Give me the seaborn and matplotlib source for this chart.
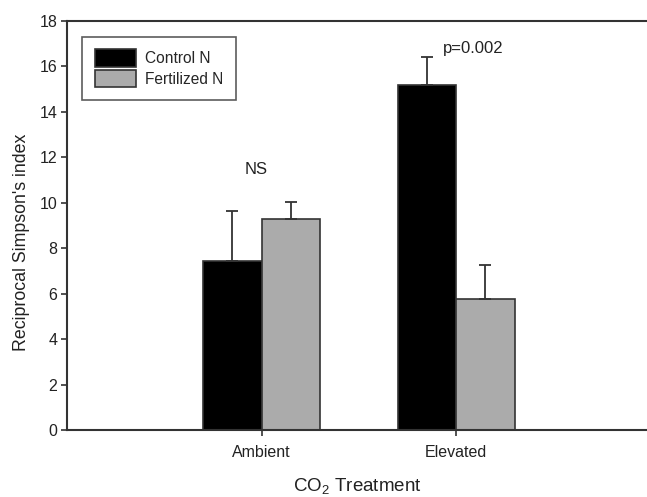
import pandas as pd
import numpy as np
import matplotlib
matplotlib.use('Agg')
import matplotlib.pyplot as plt
import seaborn as sns

sns.set_theme(style="white")
plt.rcParams['font.family'] = ['Liberation Sans', 'DejaVu Sans']
plt.rcParams['mathtext.fontset'] = 'custom'
plt.rcParams['mathtext.rm'] = 'Liberation Sans'

EDGE = '#333333'
GRAY = '#ababab'
TXT = '#222222'

treatments = ['Ambient', 'Elevated']
groups = ['Control N', 'Fertilized N']
control_vals = [7.45, 15.2]
fert_vals = [9.3, 5.75]
control_err = [2.2, 1.2]
fert_err = [0.72, 1.5]

df = pd.DataFrame({
    'treatment': treatments * 2,
    'group': [groups[0]] * 2 + [groups[1]] * 2,
    'value': control_vals + fert_vals,
    'err': control_err + fert_err,
})

fig = plt.figure(figsize=(6.47, 4.97), dpi=100)
ax = fig.add_axes([67 / 647, 1 - 430 / 497, 1 - 67 / 647, (430 - 21) / 497])

sns.barplot(data=df, x='treatment', y='value', hue='group', order=treatments,
            hue_order=groups, palette=['black', GRAY], width=0.6,
            errorbar=None, edgecolor=EDGE, linewidth=1.2, ax=ax)

# upper-only error bars, placed on the bars seaborn drew
for cont, g in zip(ax.containers, groups):
    sub = df[df['group'] == g].set_index('treatment').loc[treatments]
    xs = [p.get_x() + p.get_width() / 2 for p in cont.patches]
    ax.errorbar(xs, sub['value'], yerr=[np.zeros(len(xs)), sub['err']],
                fmt='none', ecolor=EDGE, elinewidth=1.3, capsize=4.5,
                capthick=1.3, zorder=1)

ax.text(-0.03, 11.45, 'NS', ha='center', va='center', fontsize=12, color=TXT)
ax.text(0.93, 16.8, 'p=0.002', ha='left', va='center', fontsize=12, color=TXT)

ax.set_xlim(-1, 1.98)
ax.set_ylim(0, 18)
ax.set_yticks(range(0, 19, 2))
ax.set_xlabel('CO$_2$ Treatment', fontsize=13.5, color=TXT, labelpad=12)
ax.set_ylabel("Reciprocal Simpson's index", fontsize=12.8, color=TXT)
ax.yaxis.set_label_coords(-0.064, 0.46)
ax.tick_params(axis='both', direction='out', length=4, width=1.2, color=EDGE,
               labelsize=11.5, labelcolor=TXT, bottom=True, left=True)
ax.tick_params(axis='x', pad=7)
ax.tick_params(axis='y', pad=3)

for side in ['left', 'top', 'bottom']:
    ax.spines[side].set_color(EDGE)
    ax.spines[side].set_linewidth(1.5)
ax.spines['right'].set_visible(False)

leg = ax.legend(loc='upper left', bbox_to_anchor=(0.026, 0.961), borderaxespad=0,
                fontsize=11.2, frameon=True, fancybox=False, edgecolor=EDGE,
                handlelength=2.65, handleheight=1.35, handletextpad=0.6,
                borderpad=0.8, labelspacing=0.2)
leg.get_frame().set_linewidth(1.2)
leg.set_title(None)

plt.savefig('out.png', dpi=100)
